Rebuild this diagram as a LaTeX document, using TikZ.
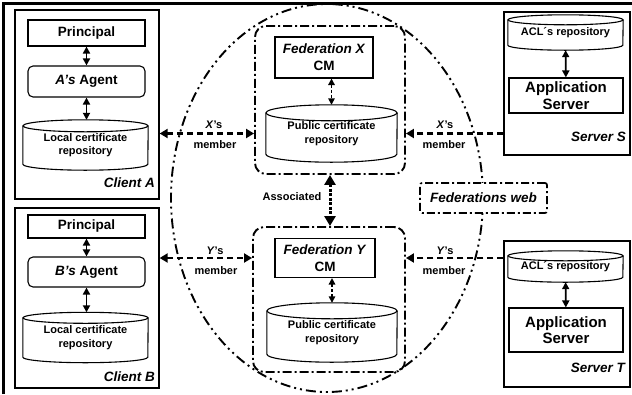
\documentclass[tikz,border=0pt]{standalone}
\usepackage{fontspec}
\setmainfont{Liberation Sans}
\usetikzlibrary{shapes.geometric,arrows.meta,calc}
\newcommand\drawcyl[3]{%
  \draw[cylline] ([yshift=-#2]#1.north west) -- ([yshift=#2]#1.south west)
     arc[start angle=180,end angle=360,x radius=#3,y radius=#2] -- ([yshift=-#2]#1.north east);
  \draw[cylline] ([yshift=-#2]#1.north) ellipse[x radius=#3,y radius=#2];}
\tikzset{
  bigf/.style={font=\fontsize{13.5}{17}\selectfont\bfseries},
  smallf/.style={font=\fontsize{11}{13.5}\selectfont\bfseries},
  appf/.style={font=\fontsize{15}{16.5}\selectfont\bfseries},
  container/.style={draw, line width=1.3pt, inner sep=0pt},
  plainbox/.style={draw, line width=1.1pt, inner sep=0pt, align=center, bigf},
  agentbox/.style={plainbox, rounded corners=5pt},
  cyltext/.style={inner sep=0pt, align=center, smallf},
  cylline/.style={line width=1.1pt},
  fedbox/.style={draw, line width=1.9pt, rounded corners=11pt, inner sep=0pt,
     dash pattern=on 9pt off 3pt on 2pt off 3pt},
  webbox/.style={draw, fill=white, line width=1.7pt, rounded corners=2pt, inner sep=0pt,
     dash pattern=on 8pt off 3pt on 2pt off 3pt, bigf},
  fedring/.style={ellipse, draw, line width=1.9pt, inner sep=0pt,
     dash pattern=on 10pt off 4pt on 2pt off 4pt on 2pt off 4pt},
  lbl/.style={inner sep=0pt, bigf},
  small/.style={inner sep=0pt, smallf},
  solidarrow/.style={line width=1.8pt, {Triangle[length=7pt,width=7pt]}-{Triangle[length=7pt,width=7pt]}},
  thindash/.style={line width=1.5pt, dash pattern=on 3pt off 2pt,
     {Triangle[length=6.5pt,width=6.5pt]}-{Triangle[length=6.5pt,width=6.5pt]}},
  member/.style={line width=2.3pt, dash pattern=on 6pt off 4pt},
  memboth/.style={member, {Triangle[length=8pt,width=9pt]}-{Triangle[length=8pt,width=9pt]}},
  memone/.style={member, -{Triangle[length=8pt,width=9pt]}},
  assoc/.style={line width=3pt, dash pattern=on 3pt off 1.5pt,
     {Triangle[length=10pt,width=11pt]}-{Triangle[length=10pt,width=11pt]}},
}
\begin{document}
\begin{tikzpicture}[x=1pt,y=1pt]
\useasboundingbox (0,0) rectangle (632,-394);
% outer frame
\draw[line width=3pt] (3.5,-394) -- (3.5,-3.5) -- (632,-3.5);

% federations ring
\node[fedring, minimum width=312pt, minimum height=388pt] (ring) at (327,-198) {};

% Client A
\node[container, minimum width=144pt, minimum height=189pt] (cA) at (87,-104.5) {};
\node[plainbox, minimum width=117pt, minimum height=26pt] (prA) at (86.5,-33) {Principal};
\node[agentbox, minimum width=117pt, minimum height=31pt] (agA) at (86.5,-81.5) {\textit{A’s} Agent};
\node[cyltext, minimum width=125pt, minimum height=50pt] (lcA) at (85.5,-145) {Local certificate\\repository};
\drawcyl{lcA}{6pt}{62.5pt}
\node[lbl, anchor=east] (cAl) at (155,-183) {\textit{Client A}};
\draw[solidarrow] (prA) -- (agA);
\draw[solidarrow] (agA) -- (agA.south |- lcA.north);

% Client B
\node[container, minimum width=144pt, minimum height=180pt] (cB) at (87,-298) {};
\node[plainbox, minimum width=117pt, minimum height=23pt] (prB) at (86.5,-226.5) {Principal};
\node[agentbox, minimum width=117pt, minimum height=30pt] (agB) at (86.5,-272) {\textit{B’s} Agent};
\node[cyltext, minimum width=125pt, minimum height=50pt] (lcB) at (85.5,-337.5) {Local certificate\\repository};
\drawcyl{lcB}{5.5pt}{62.5pt}
\node[lbl, anchor=east] (cBl) at (155,-377) {\textit{Client B}};
\draw[solidarrow] (prB) -- (agB);
\draw[solidarrow] (agB) -- (agB.south |- lcB.north);

% Federation X
\node[fedbox, minimum width=150pt, minimum height=148pt] (fx) at (330,-100) {};
\node[plainbox, minimum width=98pt, minimum height=41pt] (cmX) at (324,-57.5) {\textit{Federation X}\\CM};
\node[cyltext, minimum width=131pt, minimum height=57pt] (pcX) at (331.5,-133.5) {Public certificate\\repository};
\drawcyl{pcX}{8pt}{65.5pt}
\draw[thindash] (pcX.north |- cmX.south) -- (pcX.north);

% Federation Y
\node[fedbox, minimum width=152pt, minimum height=145pt] (fy) at (329,-299.5) {};
\node[plainbox, minimum width=100pt, minimum height=39pt] (cmY) at (325,-258) {\textit{Federation Y}\\CM};
\node[cyltext, minimum width=130pt, minimum height=59pt] (pcY) at (332,-332.5) {Public certificate\\repository};
\drawcyl{pcY}{8pt}{65pt}
\draw[thindash] (pcY.north |- cmY.south) -- (pcY.north);

% Associated
\draw[assoc] (fx.south) -- (fx.south |- fy.north);
\node[small] (assl) at (292,-197) {Associated};

% Federations web
\node[webbox, minimum width=127pt, minimum height=30pt] (web) at (483.5,-198) {\textit{Federations web}};

% Server S
\node[container, minimum width=126pt, minimum height=143pt] (sS) at (567,-83.5) {};
\node[cyltext, minimum width=115pt, minimum height=35pt] (aclS) at (565.5,-32.5) {ACL´s repository};
\drawcyl{aclS}{5pt}{57.5pt}
\node[plainbox, appf, minimum width=114pt, minimum height=35pt] (appS) at (566,-95.5) {Application\\Server};
\node[lbl, anchor=east] (sSl) at (626,-137) {\textit{Server S}};
\draw[solidarrow] (aclS) -- (appS);

% Server T
\node[container, minimum width=126pt, minimum height=146pt] (sT) at (567,-314) {};
\node[cyltext, minimum width=115pt, minimum height=31pt] (aclT) at (565.5,-266.5) {ACL´s repository};
\drawcyl{aclT}{5pt}{57.5pt}
\node[plainbox, appf, minimum width=114pt, minimum height=44pt] (appT) at (566,-330) {Application\\Server};
\node[lbl, anchor=east] (sTl) at (626,-368) {\textit{Server T}};
\draw[solidarrow] (aclT) -- (appT);

% membership arrows
\draw[memboth] (pcX -| cA.east) -- (pcX -| fx.west);
\draw[memone] (pcX -| sS.west) -- (pcX -| fx.east);
\draw[memboth] (cmY -| cB.east) -- (cmY -| fy.west);
\draw[memone] (cmY -| sT.west) -- (cmY -| fy.east);

\node[small] (xl1) at (214,-125) {\textit{X}’s};
\node[small] (xm1) at (215,-145) {member};
\node[small] (xl2) at (445,-125) {\textit{X}’s};
\node[small] (xm2) at (444,-145) {member};
\node[small] (yl1) at (215,-251) {\textit{Y}’s};
\node[small] (ym1) at (216,-271) {member};
\node[small] (yl2) at (445,-251) {\textit{Y}’s};
\node[small] (ym2) at (444,-271) {member};
\end{tikzpicture}
\end{document}
